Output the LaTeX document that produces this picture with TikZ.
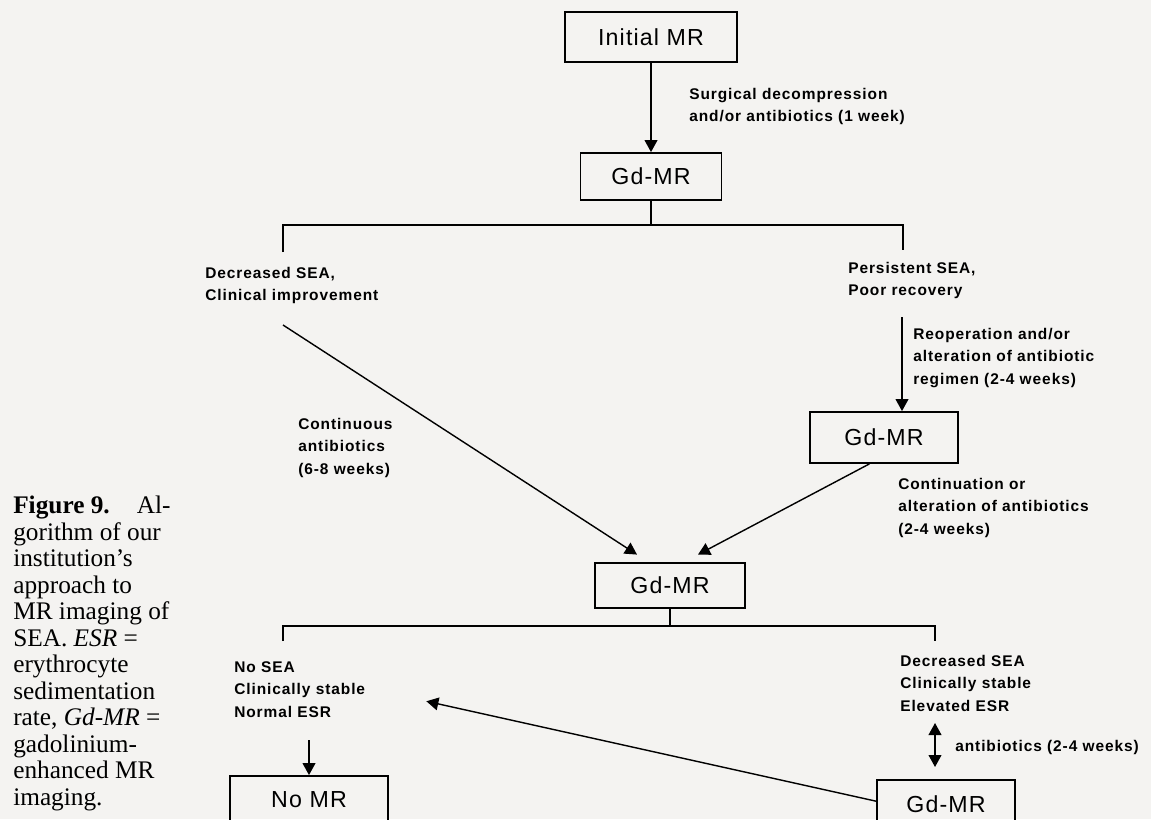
\documentclass[tikz,border=0pt]{standalone}
\usepackage{fontspec}
\setmainfont{Liberation Serif}
\newfontfamily\boxfont[LetterSpace=5]{Liberation Sans}
\newfontfamily\notefont[LetterSpace=6]{Liberation Sans}
\usetikzlibrary{arrows.meta}
\definecolor{paper}{RGB}{244,243,241}

\begin{document}
\begin{tikzpicture}[x=0.25mm,y=0.25mm,
  box/.style={draw,line width=1.3pt,inner sep=0pt,font=\boxfont\fontsize{16.5}{18}\selectfont},
  note/.style={anchor=north west,inner sep=0pt,align=left,font=\notefont\bfseries\fontsize{11}{16}\selectfont},
  line/.style={line width=1pt},
  arr/.style={line width=1pt,-{Triangle[length=3mm,width=3.2mm]}},
  darr/.style={line width=1pt,{Triangle[length=3mm,width=3.2mm]}-{Triangle[length=3mm,width=3.2mm]}}]
\fill[paper] (0,0) rectangle (1151,-819);
\useasboundingbox (0,0) rectangle (1151,-819);
\node[box,minimum width=43mm,minimum height=12.5mm] (init) at (651,-37) {Initial MR};
\node[box,minimum width=35.25mm,minimum height=11.75mm] (gd1) at (651,-176.5) {Gd-MR};
\node[box,minimum width=37mm,minimum height=12.75mm] (gd2) at (884,-437.5) {Gd-MR};
\node[box,minimum width=37.5mm,minimum height=11.25mm] (gd3) at (670,-585.5) {Gd-MR};
\node[box,minimum width=39.5mm,minimum height=12mm] (nomr) at (309,-800) {No MR};
\node[box,minimum width=34.5mm,minimum height=12mm] (gd4) at (946,-804) {Gd-MR};
\node[note] (surg) at (689,-88) {Surgical decompression\\and/or antibiotics (1 week)};
\node[note] (dec1) at (205,-267) {Decreased SEA,\\Clinical improvement};
\node[note] (pers) at (848,-262) {Persistent SEA,\\Poor recovery};
\node[note] (reop) at (913,-328) {Reoperation and/or\\alteration of antibiotic\\regimen (2-4 weeks)};
\node[note] (cont1) at (298,-418) {Continuous\\antibiotics\\(6-8 weeks)};
\node[note] (cont2) at (898,-478) {Continuation or\\alteration of antibiotics\\(2-4 weeks)};
\node[note] (nosea) at (234,-661) {No SEA\\Clinically stable\\Normal ESR};
\node[note] (decsea) at (900,-655) {Decreased SEA\\Clinically stable\\Elevated ESR};
\node[note,anchor=west] (anti) at (955,-747) {antibiotics (2-4 weeks)};
\node[anchor=north west,inner sep=0pt,align=left,font=\fontsize{18}{18.85}\selectfont] (caption) at (13,-496)
  {\textbf{Figure 9.}\hspace{6.75mm}Al-\\gorithm of our\\institution’s\\approach to\\MR imaging of\\SEA. \textit{ESR} =\\erythrocyte\\sedimentation\\rate, \textit{Gd-MR} =\\gadolinium-\\enhanced MR\\imaging.};
\coordinate (j1) at (651,-225);
\coordinate (sl) at (283,-252);
\coordinate (sr) at (903,-250);
\coordinate (dl) at (283,-325);
\coordinate (p1) at (902,-317);
\coordinate (j2) at (670,-626);
\coordinate (sl2) at (283,-641);
\coordinate (sr2) at (935,-641);
\coordinate (n1) at (309,-740);
\coordinate (e1) at (935,-723);
\coordinate (e2) at (935,-767);
\draw[arr] (init.south) -- (gd1.north);
\draw[line] (gd1.south) -- (j1);
\draw[line] (sl) -- (sl |- j1) -- (sr |- j1) -- (sr);
\draw[arr] (dl) -- ([shift={(-33,7.5)}]gd3.north);
\draw[arr] (p1) -- (p1 |- gd2.north);
\draw[arr] (gd2.241) -- ([shift={(28,7.5)}]gd3.north);
\draw[line] (gd3.south) -- (j2);
\draw[line] (sl2) -- (sl2 |- j2) -- (sr2 |- j2) -- (sr2);
\draw[arr] (n1) -- (n1 |- nomr.north);
\draw[darr] (e1) -- (e2);
\draw[arr] ([yshift=2]gd4.west) -- ([shift={(61,-12)}]nosea.east);
\end{tikzpicture}
\end{document}
